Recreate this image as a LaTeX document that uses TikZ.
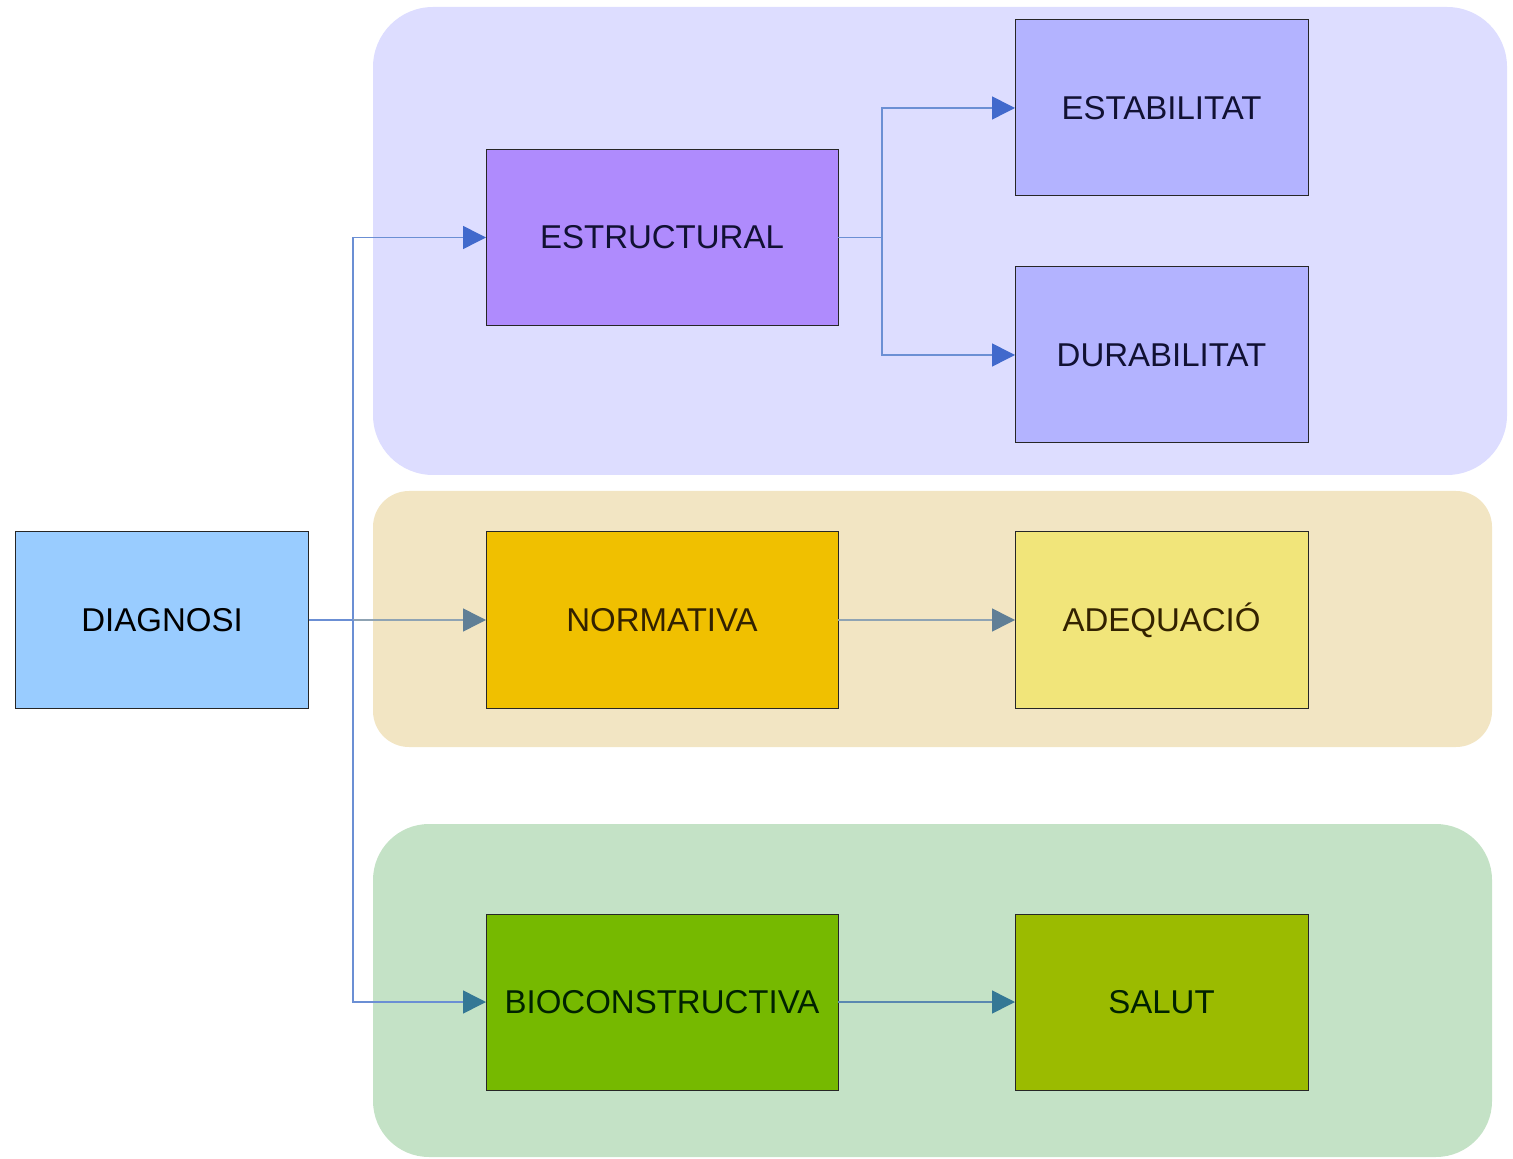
\documentclass[tikz,border=0pt]{standalone}
\usepackage{fontspec}
\setmainfont{Liberation Sans}
\usetikzlibrary{arrows.meta}
\definecolor{pblue}{HTML}{DDDDFF}
\definecolor{ptan}{HTML}{F2E5C3}
\definecolor{pgreen}{HTML}{C4E2C6}
\definecolor{cdiag}{HTML}{99CCFF}
\definecolor{cestr}{HTML}{AF8BFD}
\definecolor{cest}{HTML}{B3B3FF}
\definecolor{cnorm}{HTML}{F0C000}
\definecolor{cadeq}{HTML}{F1E57A}
\definecolor{cbio}{HTML}{76B900}
\definecolor{csal}{HTML}{9BBB00}
\definecolor{lblue}{HTML}{6B8FD4}
\definecolor{ablue}{HTML}{4169CC}
\definecolor{lslate}{HTML}{8FA3B3}
\definecolor{aslate}{HTML}{607F96}
\definecolor{lteal}{HTML}{5A88B0}
\definecolor{ateal}{HTML}{347895}
\definecolor{tbrown}{HTML}{332200}
\definecolor{tgreen}{HTML}{002200}
\definecolor{tblue}{HTML}{111133}
\begin{document}
\begin{tikzpicture}[x=0.5pt,y=-0.5pt,
  box/.style={draw=black!85,line width=0.5pt,inner sep=0pt,outer sep=0pt,
    minimum height=88pt,font=\fontsize{16.5}{20}\selectfont},
  wide/.style={box,minimum width=176pt},
  narrow/.style={box,minimum width=146.5pt},
  conn/.style={line width=0.75pt},
  tipb/.style={-{Triangle[length=11.5pt,width=11.5pt,color=ablue,fill=ablue]}},
  tips/.style={-{Triangle[length=11.5pt,width=11.5pt,color=aslate,fill=aslate]}},
  tipt/.style={-{Triangle[length=11.5pt,width=11.5pt,color=ateal,fill=ateal]}}
]
\useasboundingbox (0,0) rectangle (1513,1159);
% panels
\fill[pblue,rounded corners=30pt] (373,7) rectangle (1507,475);
\fill[ptan,rounded corners=18pt] (373,491) rectangle (1492,747);
\fill[pgreen,rounded corners=28pt] (373,824) rectangle (1492,1157);
% nodes
\node[narrow,fill=cdiag,text=black] (diag) at (162,620) {DIAGNOSI};
\node[wide,fill=cestr,text=tblue] (estr) at (662,237.5) {ESTRUCTURAL};
\node[narrow,fill=cest,text=tblue] (estab) at (1161.5,108) {ESTABILITAT};
\node[narrow,fill=cest,text=tblue] (dura) at (1161.5,355) {DURABILITAT};
\node[wide,fill=cnorm,text=tbrown] (norm) at (662,620) {NORMATIVA};
\node[narrow,fill=cadeq,text=tbrown] (adeq) at (1161.5,620) {ADEQUACIÓ};
\node[wide,fill=cbio,text=tgreen] (bio) at (662,1002) {BIOCONSTRUCTIVA};
\node[narrow,fill=csal,text=tgreen] (sal) at (1161.5,1002) {SALUT};
% junctions
\coordinate (j) at (353,620);
\coordinate (k) at (882,237.5);
% connectors
\draw[conn,lblue] (diag.east) -- (j);
\draw[conn,lblue,tipb] (j) |- (estr.west);
\draw[conn,lslate,tips] (j) -- (norm.west);
\draw[conn,lblue] (j) |- ([xshift=-10pt]bio.west) coordinate (b);
\draw[conn,lteal,tipt] (b) -- (bio.west);
\draw[conn,lblue] (estr.east) -- (k);
\draw[conn,lblue,tipb] (k) |- (estab.west);
\draw[conn,lblue,tipb] (k) |- (dura.west);
\draw[conn,lslate,tips] (norm.east) -- (adeq.west);
\draw[conn,lteal,tipt] (bio.east) -- (sal.west);
\end{tikzpicture}
\end{document}
